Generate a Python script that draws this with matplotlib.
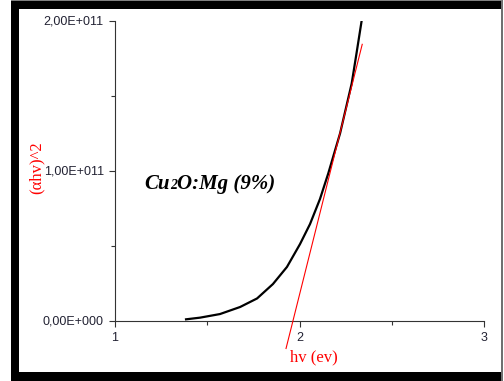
import matplotlib
matplotlib.use("Agg")
import matplotlib.pyplot as plt
from matplotlib.patches import Rectangle
from matplotlib.ticker import FixedLocator, FuncFormatter
from matplotlib.offsetbox import TextArea, HPacker, AnnotationBbox
import numpy as np

# Photon energy (eV) and (alpha*h*nu)^2 in units of 1e11
hv = [1.379, 1.461, 1.569, 1.678, 1.770, 1.856, 1.932, 2.003,
      2.057, 2.111, 2.156, 2.220, 2.283, 2.309, 2.337]
ahv2 = [0.007, 0.019, 0.043, 0.090, 0.147, 0.243, 0.357, 0.510,
        0.643, 0.810, 0.981, 1.248, 1.581, 1.781, 2.000]

# Linear fit of the absorption edge (Tauc extrapolation)
band_gap = 1.965          # eV, x-intercept
edge_slope = 4.91         # 1e11 per eV
fit_range = [1.927, 2.340]

x_ticks = [1, 2, 3]
y_ticks = [0.0, 1.0, 2.0]
y_tick_labels = ["0,00E+000", "1,00E+011", "2,00E+011"]

W, H = 504, 381
fig = plt.figure(figsize=(W / 100, H / 100), dpi=100)


def px_rect(x0, y0, x1, y1, **kw):
    """Rectangle given in pixel coords (origin top-left)."""
    r = Rectangle((x0 / W, 1 - y1 / H), (x1 - x0) / W, (y1 - y0) / H,
                  transform=fig.transFigure, **kw)
    fig.patches.append(r)


# Framed panel: heavy black border with a thin grey right edge
px_rect(11, 0, 501, 381, facecolor="black", edgecolor="none", zorder=-10)
px_rect(19, 9, 501, 372, facecolor="white", edgecolor="none", zorder=-9)
px_rect(500.5, 0, 502.5, 381, facecolor="#707070", edgecolor="none", zorder=-8)
px_rect(11, 0, 502, 1, facecolor="#808080", edgecolor="none", zorder=-8)

ax = fig.add_axes([115 / W, 1 - 320.5 / H, (484 - 115) / W, (320.5 - 20.5) / H])
ax.set_zorder(2)
ax.patch.set_alpha(0)

scale = 1e11
y_vals = np.array(ahv2) * scale
ax.plot(hv, y_vals, color="black", lw=1.6, solid_capstyle="butt",
        solid_joinstyle="round", zorder=3)

fx = np.array(fit_range)
fy = edge_slope * (fx - band_gap) * scale
ax.plot(fx, fy, color="red", lw=0.8, clip_on=False, zorder=4)

ax.set_xlim(1, 3)
ax.set_ylim(0, 2 * scale)

for s in ("top", "right"):
    ax.spines[s].set_visible(False)
for s in ("left", "bottom"):
    ax.spines[s].set_color("#333333")
    ax.spines[s].set_linewidth(0.8)

ax.xaxis.set_major_locator(FixedLocator(x_ticks))
ax.xaxis.set_minor_locator(FixedLocator([1.5, 2.5]))
ax.yaxis.set_major_locator(FixedLocator([v * scale for v in y_ticks]))
ax.yaxis.set_minor_locator(FixedLocator([0.5 * scale, 1.5 * scale]))
ax.yaxis.set_major_formatter(FuncFormatter(
    lambda v, p: y_tick_labels[int(round(v / scale))]))
ax.xaxis.set_major_formatter(FuncFormatter(lambda v, p: f"{v:g}"))

ax.tick_params(which="major", length=4.5, width=0.8, color="#333333",
               pad=3.5, labelcolor="#222233", labelsize=9)
ax.tick_params(which="minor", length=3, width=0.8, color="#333333")
for lab in ax.get_xticklabels() + ax.get_yticklabels():
    lab.set_fontfamily("Liberation Sans")

# Axis titles in red serif
fig.text(37 / W, 1 - 168 / H, "(αhv)^2", color="red", rotation=90,
         family="Liberation Serif", fontsize=12, ha="center", va="center")
fig.text(314 / W, 1 - 357 / H, "hv (ev)", color="red",
         family="Liberation Serif", fontsize=12, ha="center", va="center")

# Sample label with a smaller "2"
props = dict(family="Liberation Serif", weight="bold", style="italic",
             color="black")
parts = HPacker(children=[
    TextArea("Cu", textprops=dict(size=15, **props)),
    TextArea("2", textprops=dict(size=10, **props)),
    TextArea("O:Mg (9%)", textprops=dict(size=15, **props)),
], align="baseline", pad=0, sep=0)
ab = AnnotationBbox(parts, (210 / W, 1 - 184 / H), xycoords="figure fraction",
                    frameon=False, box_alignment=(0.5, 0.5), pad=0)
fig.add_artist(ab)

fig.savefig("out.png", dpi=100)
